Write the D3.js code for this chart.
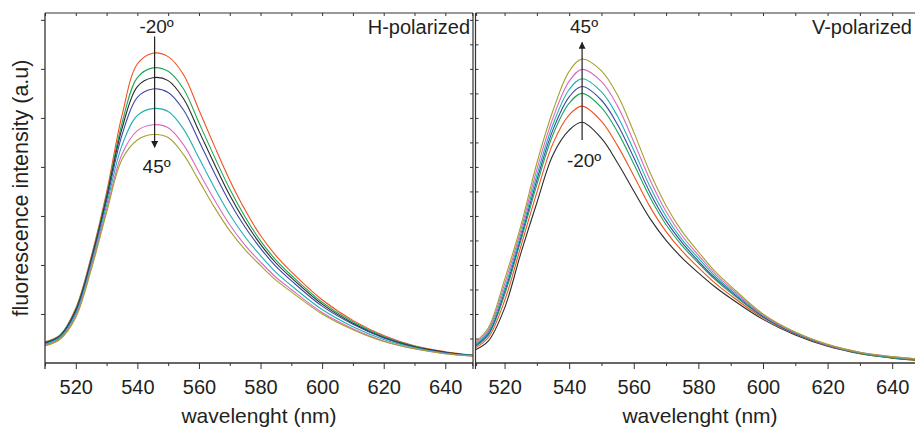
<!DOCTYPE html>
<html>
<head>
<meta charset="utf-8">
<script src="https://cdn.jsdelivr.net/npm/d3@7"></script>
<style>
  body { margin: 0; background: #fff; }
  text { font-family: "Liberation Sans", Arial, sans-serif; fill: #231f20; }
</style>
</head>
<body>
<div id="chart"></div>
<script>
// wavelengths (nm) sampled for each panel
var wlH = [510, 515, 520, 525, 530, 535, 540, 545, 550, 555, 560, 565, 570, 575, 580, 585, 590, 600, 610, 620, 630, 640, 649];
var wlV = [511, 515, 520, 525, 530, 535, 540, 544, 550, 555, 560, 565, 570, 575, 580, 585, 590, 600, 610, 620, 630, 640, 648];

// H-polarized intensities (a.u.)
var hRed     = [0.43, 0.58, 1.12, 2.17, 3.48, 5.05, 6.10, 6.32, 6.25, 5.88, 5.16, 4.43, 3.73, 3.12, 2.60, 2.19, 1.86, 1.29, 0.87, 0.56, 0.35, 0.23, 0.16];
var hGreen   = [0.42, 0.57, 1.10, 2.13, 3.42, 4.89, 5.82, 6.02, 5.95, 5.59, 4.90, 4.21, 3.55, 2.98, 2.49, 2.10, 1.79, 1.24, 0.84, 0.54, 0.34, 0.22, 0.16];
var hBlack   = [0.41, 0.56, 1.07, 2.10, 3.37, 4.78, 5.64, 5.82, 5.76, 5.39, 4.73, 4.06, 3.42, 2.88, 2.42, 2.04, 1.74, 1.20, 0.81, 0.52, 0.33, 0.22, 0.15];
var hBlue    = [0.40, 0.55, 1.04, 2.06, 3.31, 4.65, 5.42, 5.59, 5.52, 5.16, 4.53, 3.88, 3.28, 2.77, 2.34, 1.97, 1.68, 1.16, 0.79, 0.51, 0.32, 0.21, 0.15];
var hCyan    = [0.38, 0.52, 1.00, 2.00, 3.22, 4.44, 5.05, 5.19, 5.13, 4.77, 4.18, 3.58, 3.03, 2.57, 2.19, 1.85, 1.58, 1.09, 0.74, 0.48, 0.31, 0.20, 0.15];
var hMagenta = [0.36, 0.50, 0.96, 1.94, 3.13, 4.26, 4.74, 4.86, 4.80, 4.45, 3.89, 3.33, 2.82, 2.40, 2.06, 1.75, 1.50, 1.03, 0.70, 0.45, 0.29, 0.19, 0.14];
var hOlive   = [0.35, 0.49, 0.93, 1.90, 3.07, 4.15, 4.55, 4.66, 4.60, 4.25, 3.72, 3.18, 2.70, 2.31, 1.99, 1.69, 1.45, 1.00, 0.68, 0.44, 0.29, 0.19, 0.14];

// V-polarized intensities (a.u.)
var vBlack   = [0.27, 0.45, 1.12, 2.23, 3.27, 4.25, 4.75, 4.91, 4.58, 4.08, 3.51, 2.95, 2.50, 2.14, 1.84, 1.56, 1.32, 0.89, 0.57, 0.34, 0.19, 0.10, 0.05];
var vRed     = [0.31, 0.52, 1.27, 2.37, 3.48, 4.48, 5.06, 5.24, 4.93, 4.43, 3.82, 3.19, 2.68, 2.28, 1.95, 1.64, 1.38, 0.92, 0.59, 0.35, 0.20, 0.11, 0.06];
var vGreen   = [0.34, 0.57, 1.39, 2.49, 3.64, 4.66, 5.30, 5.50, 5.21, 4.71, 4.06, 3.38, 2.82, 2.39, 2.04, 1.71, 1.43, 0.94, 0.60, 0.36, 0.20, 0.11, 0.06];
var vBlue    = [0.36, 0.60, 1.45, 2.55, 3.73, 4.76, 5.43, 5.64, 5.36, 4.86, 4.19, 3.48, 2.90, 2.45, 2.08, 1.74, 1.46, 0.95, 0.60, 0.36, 0.21, 0.12, 0.07];
var vCyan    = [0.38, 0.64, 1.52, 2.62, 3.83, 4.87, 5.58, 5.80, 5.53, 5.03, 4.34, 3.60, 2.99, 2.51, 2.14, 1.78, 1.49, 0.97, 0.61, 0.37, 0.21, 0.12, 0.07];
var vMagenta = [0.40, 0.68, 1.61, 2.70, 3.95, 5.00, 5.75, 5.99, 5.74, 5.24, 4.51, 3.74, 3.09, 2.59, 2.20, 1.83, 1.53, 0.98, 0.62, 0.37, 0.22, 0.13, 0.08];
var vOlive   = [0.43, 0.72, 1.70, 2.79, 4.08, 5.15, 5.95, 6.20, 5.96, 5.46, 4.71, 3.89, 3.21, 2.68, 2.27, 1.88, 1.57, 1.00, 0.63, 0.38, 0.22, 0.13, 0.08];

var xMajor = [520, 540, 560, 580, 600, 620, 640];
var xMinor = [510, 530, 550, 570, 590, 610, 630, 650];
var yMajor = [1, 2, 3, 4, 5, 6, 7];

var colors = {
  red: '#f4511e', green: '#1ea85a', black: '#2b2b2b', blue: '#3c48a8',
  cyan: '#1eb2b0', magenta: '#dc68c4', olive: '#a5a12c'
};

var width = 915, height = 431;
var plotTop = 13, plotBottom = 363;

var svg = d3.select('#chart').append('svg')
  .attr('width', width).attr('height', height);

var y = d3.scaleLinear().domain([0, 7.14]).range([plotBottom, plotTop]);

var panels = [
  {
    id: 'h', x: d3.scaleLinear().domain([510, 649]).range([45, 473]),
    left: 45, right: 473, wl: wlH, label: 'H-polarized',
    series: [['red', hRed], ['green', hGreen], ['black', hBlack], ['blue', hBlue],
             ['cyan', hCyan], ['magenta', hMagenta], ['olive', hOlive]],
    arrow: { wl: 545.6, from: 6.66, to: 4.4, topText: '-20º', bottomText: '45º', topY: 33, bottomY: 173 }
  },
  {
    id: 'v', x: d3.scaleLinear().domain([511, 650]).range([475.5, 924.5]),
    left: 475.5, right: 924.5, wl: wlV, label: 'V-polarized',
    series: [['black', vBlack], ['red', vRed], ['green', vGreen], ['blue', vBlue],
             ['cyan', vCyan], ['magenta', vMagenta], ['olive', vOlive]],
    arrow: { wl: 544, from: 4.55, to: 6.54, topText: '45º', bottomText: '-20º', topY: 33, bottomY: 167 }
  }
];

var defs = svg.append('defs');
defs.append('marker')
  .attr('id', 'head').attr('viewBox', '0 0 10 10')
  .attr('refX', 9).attr('refY', 5)
  .attr('markerWidth', 9).attr('markerHeight', 7)
  .attr('markerUnits', 'userSpaceOnUse')
  .attr('orient', 'auto')
  .append('path').attr('d', 'M0,0 L10,5 L0,10 Z').attr('fill', '#231f20');

function tidy(g) {
  g.select('.domain').remove();
  g.selectAll('.tick line').attr('stroke', '#333');
}

panels.forEach(function(p) {
  var clipRight = Math.min(p.right, width);
  defs.append('clipPath').attr('id', 'clip-' + p.id)
    .append('rect')
    .attr('x', p.left).attr('y', plotTop)
    .attr('width', clipRight - p.left).attr('height', plotBottom - plotTop);

  var line = d3.line()
    .x(function(d) { return p.x(d[0]); })
    .y(function(d) { return y(d[1]); })
    .curve(d3.curveCatmullRom.alpha(0.5));

  var g = svg.append('g').attr('clip-path', 'url(#clip-' + p.id + ')');
  p.series.forEach(function(s) {
    var pts = p.wl.map(function(w, i) { return [w, s[1][i]]; });
    g.append('path')
      .datum(pts)
      .attr('d', line)
      .attr('fill', 'none')
      .attr('stroke', colors[s[0]])
      .attr('stroke-width', 1.1);
  });

  // bottom axis
  var bx = svg.append('g').attr('transform', 'translate(0,' + plotBottom + ')')
    .call(d3.axisBottom(p.x).tickValues(xMajor).tickSize(6).tickPadding(11))
    .call(tidy);
  bx.selectAll('text').style('font-size', '20px').attr('fill', '#231f20');
  svg.append('g').attr('transform', 'translate(0,' + plotBottom + ')')
    .call(d3.axisBottom(p.x).tickValues(xMinor).tickSize(3).tickFormat(''))
    .call(tidy);

  // top ticks (inward)
  svg.append('g').attr('transform', 'translate(0,' + plotTop + ')')
    .call(d3.axisBottom(p.x).tickValues(xMajor.concat(xMinor)).tickSize(3).tickFormat(''))
    .call(tidy);

  // borders
  svg.append('line').attr('x1', p.left).attr('x2', clipRight).attr('y1', plotBottom).attr('y2', plotBottom)
    .attr('stroke', '#333').attr('stroke-width', 1.3);
  svg.append('line').attr('x1', p.left).attr('x2', clipRight).attr('y1', plotTop).attr('y2', plotTop)
    .attr('stroke', '#333').attr('stroke-width', 1.1);

  // axis title
  svg.append('text')
    .attr('x', (p.left + p.right) / 2).attr('y', 423)
    .attr('text-anchor', 'middle').style('font-size', '21px')
    .text('wavelenght (nm)');

  svg.append('text')
    .attr('x', clipRight - 3).attr('y', 34)
    .attr('text-anchor', 'end').style('font-size', '20px')
    .text(p.label);

  // arrow annotation
  var a = p.arrow;
  var ax = p.x(a.wl);
  svg.append('line')
    .attr('x1', ax).attr('x2', ax)
    .attr('y1', y(a.from)).attr('y2', y(a.to))
    .attr('stroke', '#231f20').attr('stroke-width', 1.2)
    .attr('marker-end', 'url(#head)');
  svg.append('text').attr('x', ax + 2).attr('y', a.topY)
    .attr('text-anchor', 'middle').style('font-size', '19px').text(a.topText);
  svg.append('text').attr('x', ax + 2).attr('y', a.bottomY)
    .attr('text-anchor', 'middle').style('font-size', '19px').text(a.bottomText);
});

// left axis of H panel
var hp = panels[0], vp = panels[1];
svg.append('g').attr('transform', 'translate(' + hp.left + ',0)')
  .call(d3.axisLeft(y).tickValues(yMajor).tickSize(4).tickFormat(''))
  .call(tidy);
svg.append('line').attr('x1', hp.left).attr('x2', hp.left).attr('y1', plotTop).attr('y2', plotBottom + 6)
  .attr('stroke', '#333').attr('stroke-width', 1.3);

// inner borders (double line between panels)
var innerTicks = d3.range(0.5, 7.1, 0.5);
svg.append('g').attr('transform', 'translate(' + hp.right + ',0)')
  .call(d3.axisLeft(y).tickValues(innerTicks).tickSize(3).tickFormat(''))
  .call(tidy);
svg.append('g').attr('transform', 'translate(' + vp.left + ',0)')
  .call(d3.axisRight(y).tickValues(innerTicks).tickSize(3).tickFormat(''))
  .call(tidy);
[hp.right, vp.left].forEach(function(xv) {
  svg.append('line').attr('x1', xv).attr('x2', xv).attr('y1', plotTop).attr('y2', plotBottom + 6)
    .attr('stroke', '#333').attr('stroke-width', 1.2);
});

// y label
svg.append('text')
  .attr('transform', 'translate(28,' + ((plotTop + plotBottom) / 2) + ') rotate(-90)')
  .attr('text-anchor', 'middle').style('font-size', '21.5px')
  .text('fluorescence intensity (a.u)');
</script>
</body>
</html>
